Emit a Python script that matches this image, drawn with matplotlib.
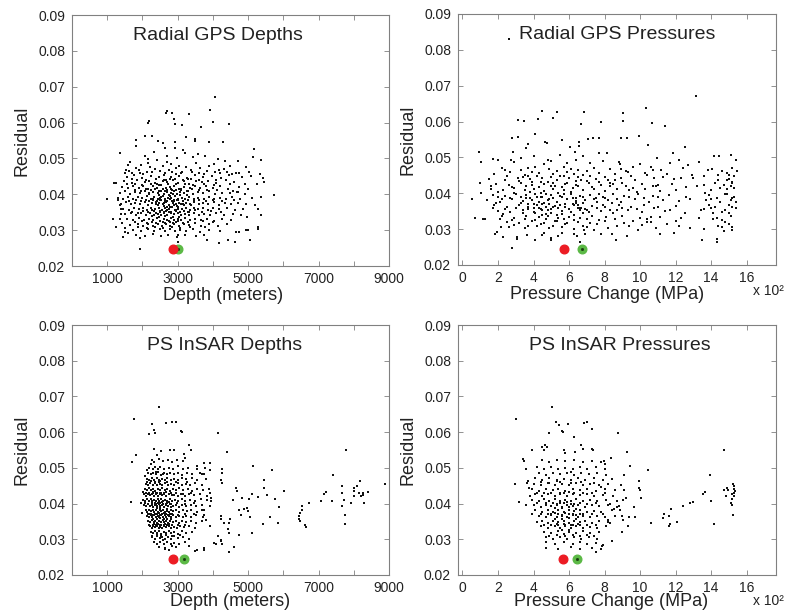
import matplotlib
matplotlib.use("Agg")
import matplotlib.pyplot as plt
import numpy as np

plt.rcParams['font.family'] = ['Liberation Sans', 'DejaVu Sans']

# Values.
# depth in units of 100 m, pressure in units of 100 MPa, residual in units of 0.001

gps_depth_pts = [
    # sparse outer points
    (10.0,38.6),(11.7,33.1),(12.4,30.9),(11.8,43.1),(12.5,43.1),(13.7,51.5),(14.4,28.0),(15.1,29.5),
    (16.0,29.1),(18.3,55.2),(18.3,53.6),(19.2,24.7),(19.3,27.7),(20.8,56.3),(21.6,59.9),(21.8,60.4),
    (22.6,56.4),(24.3,54.8),(25.8,54.3),(26.6,62.7),(26.9,63.1),(28.3,62.8),(29.0,61.0),(29.2,59.7),
    (31.3,59.3),(33.1,62.3),(32.5,56.0),(35.0,55.4),(35.0,54.8),(36.7,58.9),(39.3,63.6),(39.9,60.1),
    (40.5,67.0),(38.8,54.6),(42.9,54.6),(44.7,59.5),(51.6,52.6),(51.4,50.4),(53.6,49.6),(50.2,46.3),
    (53.3,45.6),(54.2,44.5),(54.4,43.4),(57.4,39.8),(53.6,39.2),(52.0,37.0),(52.7,36.0),(53.8,34.1),
    (52.8,30.9),(52.7,30.4),(49.3,30.0),(50.1,30.0),(50.6,27.2),(46.7,29.5),(47.3,29.5),(46.4,26.7),
    (44.4,27.4),(41.6,26.4),(38.3,27.2),(30.0,26.7),(30.1,28.6),(49.7,33.6),(47.0,40.7),(46.7,45.9),
    (47.0,49.2),(43.5,49.3),(41.4,49.9),(35.7,51.2),(36.4,47.3),(32.2,51.5),(29.2,54.5),(29.2,53.0),
    (27.0,49.0),(20.8,50.7),(21.5,49.9),(21.5,48.7),(16.6,48.9),(16.0,48.1),(15.3,46.7),(15.0,45.9),
    (13.0,38.4),(13.5,37.0),(14.0,36.0),(13.9,34.5),(13.7,33.0),(14.2,32.1),(15.0,30.6),
    # main cloud
    (16.2,46.4),(18.9,46.8),(21.3,46.1),(23.7,47.2),(25.1,46.5),(27.4,46.9),(29.6,47.4),(31.2,46.3),
    (33.8,46.7),(36.0,45.9),(38.3,46.6),(40.7,46.2),(43.1,47.0),(45.5,45.8),
    (15.5,44.8),(17.6,45.3),(19.8,44.6),(22.4,45.1),(24.6,44.9),(26.2,45.5),(28.1,44.7),(30.4,45.2),
    (32.6,44.6),(34.9,45.4),(37.1,44.8),(39.8,45.0),(42.3,44.5),(44.6,45.3),(48.2,44.7),(50.8,45.1),
    (14.8,43.6),(16.9,43.2),(18.4,43.9),(20.6,43.4),(22.0,43.8),(23.5,43.1),(25.7,43.6),(27.0,43.3),
    (28.8,43.9),(30.0,43.2),(31.7,43.7),(33.3,43.0),(35.2,43.8),(36.8,43.3),(38.6,43.6),(41.0,43.1),
    (43.7,43.9),(46.1,43.4),(49.2,43.0),(52.4,42.8),
    (14.2,42.1),(15.8,41.7),(17.3,42.4),(19.0,41.9),(20.2,42.3),(21.6,41.6),(22.9,42.2),(24.1,41.8),
    (25.4,42.5),(26.6,41.7),(27.8,42.0),(29.1,42.4),(30.3,41.6),(31.9,42.1),(33.6,41.8),(34.8,42.3),
    (36.4,41.7),(38.0,42.2),(39.9,41.9),(42.0,42.4),(44.2,41.6),(47.5,42.0),(50.1,41.5),
    (13.6,40.4),(15.1,40.8),(16.5,40.2),(17.9,40.7),(19.3,40.3),(20.7,40.9),(21.9,40.1),(23.1,40.6),
    (24.3,40.3),(25.2,40.8),(26.1,40.2),(27.1,40.7),(28.0,40.4),(28.9,40.9),(29.8,40.1),(30.8,40.6),
    (31.8,40.3),(33.0,40.8),(34.3,40.2),(35.7,40.6),(37.2,40.4),(38.9,40.8),(40.6,40.1),(42.5,40.5),
    (44.8,40.3),(46.9,40.7),(49.0,40.0),
    (13.1,39.1),(14.6,38.8),(16.0,39.3),(17.4,38.7),(18.7,39.2),(19.9,38.9),(21.2,39.4),(22.4,38.6),
    (23.4,39.2),(24.4,38.8),(25.3,39.3),(26.3,38.7),(27.2,39.1),(28.2,38.9),(29.2,39.4),(30.1,38.6),
    (31.1,39.0),(32.1,38.8),(33.3,39.3),(34.6,38.7),(35.9,39.1),(37.4,38.8),(38.8,39.3),(40.3,38.6),
    (41.9,39.0),(43.6,38.8),(45.4,39.2),(47.8,38.7),(51.0,38.9),
    (13.8,37.4),(15.3,37.8),(16.7,37.2),(18.0,37.6),(19.4,37.3),(20.6,37.8),(21.7,37.1),(22.8,37.5),
    (23.8,37.2),(24.8,37.7),(25.7,37.3),(26.7,37.8),(27.6,37.1),(28.6,37.6),(29.5,37.3),(30.4,37.7),
    (31.4,37.2),(32.4,37.6),(33.5,37.3),(34.7,37.8),(36.0,37.2),(37.3,37.6),(38.7,37.4),(40.2,37.8),
    (41.8,37.1),(43.4,37.5),(45.2,37.3),(47.1,37.7),(49.5,37.2),
    (14.5,36.0),(16.1,35.7),(17.5,36.3),(18.9,35.8),(20.1,36.2),(21.4,35.6),(22.5,36.1),(23.6,35.8),
    (24.6,36.3),(25.5,35.7),(26.4,36.1),(27.4,35.9),(28.3,36.4),(29.3,35.6),(30.2,36.0),(31.2,35.8),
    (32.3,36.3),(33.4,35.7),(34.6,36.1),(35.8,35.9),(37.1,36.2),(38.6,35.7),(40.1,36.1),(41.7,35.8),
    (43.9,36.2),(46.2,35.6),(48.6,36.0),
    (15.0,34.4),(16.8,34.8),(18.3,34.2),(19.7,34.7),(21.0,34.3),(22.2,34.8),(23.3,34.1),(24.3,34.6),
    (25.2,34.3),(26.2,34.8),(27.1,34.2),(28.1,34.7),(29.0,34.4),(30.0,34.9),(31.0,34.1),(32.1,34.6),
    (33.3,34.3),(34.6,34.8),(36.0,34.2),(37.5,34.6),(39.2,34.3),(41.0,34.7),(43.1,34.2),(45.7,34.5),
    (47.9,34.1),
    (15.6,33.1),(17.4,32.8),(19.1,33.3),(20.5,32.7),(21.8,33.2),(23.0,32.9),(24.0,33.4),(25.0,32.6),
    (26.0,33.0),(27.0,32.8),(28.0,33.3),(29.0,32.7),(30.0,33.1),(31.0,32.9),(32.2,33.4),(33.5,32.7),
    (34.9,33.0),(36.5,32.8),(38.3,33.2),(40.2,32.6),(42.6,33.0),(45.2,32.8),
    (16.5,31.4),(18.6,31.8),(20.2,31.2),(21.7,31.7),(23.1,31.3),(24.4,31.8),(25.6,31.1),(26.8,31.6),
    (27.9,31.3),(29.1,31.8),(30.4,31.2),(31.8,31.6),(33.2,31.4),(34.8,31.9),(36.7,31.2),(38.9,31.6),
    (41.5,31.3),(44.0,31.7),
    (17.2,30.1),(19.5,29.8),(21.5,30.3),(23.3,29.7),(24.9,30.2),(26.4,29.9),(27.8,30.4),(29.3,29.7),
    (30.8,30.1),(32.5,29.9),(34.4,30.3),(36.3,29.6),(39.0,30.0),(42.1,29.8),
    (18.2,28.6),(20.8,28.3),(22.9,28.8),(25.3,28.4),(27.3,28.7),(29.8,28.2),(32.2,28.6),(35.1,28.3),
    (37.6,28.7),
    (24.7,39.8),(25.9,39.6),(27.5,39.9),(28.6,40.0),(30.6,39.7),(26.9,38.2),(28.4,38.1),(29.9,38.3),
    (25.1,38.4),(31.6,38.2),(23.9,37.9),(27.9,36.6),(26.1,36.8),(29.7,36.7),(31.7,36.9),(24.9,35.2),
    (27.6,35.1),(29.5,35.3),(26.8,35.4),(30.7,35.2),(23.4,35.3),(28.7,33.8),(26.5,33.9),(24.6,33.7),
    (30.5,33.8),(27.7,32.2),(25.8,32.3),(29.6,32.4),(22.6,34.0),(32.8,35.1),(23.0,38.3),(22.0,40.3),
    (33.9,37.0),(32.7,39.7),(26.3,41.0),(28.4,41.3),(30.9,41.1),(24.2,42.9),(27.9,44.2),(29.4,45.8),
    (26.8,44.0),(32.9,44.2),(28.5,46.1),(25.8,47.8),(28.0,48.4),(30.5,48.0),(32.5,47.6),(22.2,47.5),
    (19.7,48.2),(35.2,48.6),(38.9,47.8),(41.6,46.8),(20.3,45.7),(24.0,49.5),(27.1,50.6),(29.9,50.1),
    (31.6,52.3),(26.3,52.8),(23.3,51.9),(34.3,50.3),(37.8,50.6),(40.2,48.5),(45.0,47.8),(44.1,46.1),
    (47.4,46.0),(49.5,47.6),(18.1,47.3),(17.0,45.9),
    (17.8,41.3),(19.6,41.0),(21.1,41.4),(22.3,41.1),(23.5,41.5),(24.7,41.0),(25.8,41.4),(26.9,41.1),
    (28.1,41.6),(29.6,41.2),(31.0,41.5),(32.6,41.0),(34.2,41.4),(36.1,41.1),(38.4,41.3),(41.3,41.2),
    (45.6,41.0),
    (16.3,38.1),(18.1,38.4),(19.5,38.0),(20.9,38.5),(22.0,38.1),(23.1,38.6),(24.2,38.0),(25.4,38.5),
    (26.5,38.1),(27.7,38.6),(28.9,38.0),(30.2,38.5),(31.6,38.0),(33.0,38.4),(34.5,38.1),(36.2,38.5),
    (38.1,38.0),(40.0,38.4),(42.7,38.2),(45.9,38.3),
    (16.9,35.2),(18.7,34.9),(20.3,35.4),(21.6,35.0),(22.8,35.5),(23.9,34.9),(25.0,35.4),(26.0,35.0),
    (27.1,35.5),(28.2,35.1),(29.4,35.6),(30.6,35.0),(31.9,35.4),(33.3,35.1),(35.0,35.5),(36.9,35.0),
    (39.4,35.3),(42.4,35.1),
    (17.9,32.2),(19.8,32.5),(21.4,32.0),(22.7,32.4),(23.9,32.1),(25.1,32.6),(26.3,32.0),(27.5,32.5),
    (28.7,32.1),(30.0,32.6),(31.4,32.0),(33.0,32.4),(34.9,32.1),(37.2,32.5),(40.1,32.2),
    (18.8,30.9),(21.2,30.7),(23.6,31.0),(25.9,30.6),(28.3,31.0),(30.7,30.7),(33.5,30.9),(37.8,30.8),
    (15.7,42.9),(17.9,43.0),(20.0,42.7),(22.3,43.0),(24.8,42.7),(27.3,43.0),(29.6,42.8),(32.1,42.9),
    (34.4,42.6),(37.4,42.9),(40.2,42.7),(45.0,42.8),
    (17.0,44.2),(20.9,44.1),(23.8,44.3),(26.1,44.0),(29.2,44.2),(31.4,44.0),(33.9,44.3),(36.0,44.1),
    (40.8,44.0),
    (19.2,46.0),(22.8,46.2),(26.5,46.0),(30.9,45.9),(34.1,46.1),(37.6,45.8),(42.0,45.9),
    (24.5,36.9),(26.0,37.5),(27.0,36.4),(28.9,37.0),(30.0,36.6),(25.0,39.0),(27.8,39.5),(29.0,38.4),
    (31.0,37.4),
]

gps_pressure_pts = [
    # sparse outer points
    (2.64,83.0),(13.17,67.0),(0.55,38.5),(0.70,33.0),(0.94,51.6),(1.07,48.6),(0.98,43.0),(1.02,40.0),
    (1.15,32.8),(1.70,49.6),(2.00,49.4),(2.73,49.2),(2.83,51.5),(2.81,55.5),(3.10,60.5),(3.10,55.7),
    (3.45,60.2),(3.58,52.7),(4.09,56.4),(4.24,60.6),(4.45,63.0),(4.67,54.4),(4.75,53.9),(5.07,60.9),
    (5.30,62.8),(4.79,49.4),(5.58,54.8),(6.07,53.0),(6.35,51.5),(6.65,59.3),(6.86,62.7),(6.58,54.4),
    (6.56,53.1),(7.07,55.0),(7.35,55.4),(7.67,55.5),(7.80,59.9),(7.67,51.3),(8.12,51.1),(8.86,48.3),
    (8.95,55.5),(9.03,62.5),(9.06,60.2),(9.27,55.4),(9.93,56.0),(10.46,53.5),(10.33,63.7),(10.69,59.7),
    (11.38,58.8),(10.97,49.8),(10.61,47.2),(11.87,51.3),(12.51,52.8),(12.70,47.9),(13.29,48.7),
    (14.02,46.9),(14.17,50.5),(14.45,50.3),(15.10,50.6),(15.40,49.2),(15.45,46.1),(13.60,42.3),
    (13.64,40.1),(13.40,35.3),(13.29,33.1),(12.80,30.3),(12.30,33.2),(11.90,29.0),(11.10,28.7),
    (10.40,32.0),(10.60,33.4),(13.50,26.9),(13.60,29.9),(14.30,27.3),(14.30,26.3),(14.40,30.8),
    (14.70,29.5),(15.20,30.6),(15.20,29.7),(15.40,35.8),(15.40,37.7),(15.30,41.5),(15.20,43.2),
    (15.00,45.2),(14.90,43.6),(14.10,34.4),(14.00,35.8),(8.67,27.0),(8.42,28.7),(9.27,28.1),(9.90,29.7),
    (7.40,29.7),(7.80,28.7),(6.86,29.7),(6.90,28.7),(6.63,26.3),(6.45,28.2),(6.26,28.7),(5.40,28.1),
    (5.58,28.9),(5.00,27.6),(4.96,27.1),(4.47,28.3),(4.60,28.9),(4.09,26.9),(3.62,28.3),(3.05,27.8),
    (3.07,27.3),(2.77,24.7),(2.30,27.8),(1.92,29.2),(1.83,28.7),(2.15,30.6),(1.26,32.7),
    # main cloud
    (2.2,47.1),(3.3,46.6),(4.1,47.4),(4.9,46.8),(5.7,47.2),(6.5,46.5),(7.4,47.0),(8.3,46.7),(9.6,47.3),
    (11.2,46.6),(12.4,47.1),(14.6,46.3),(15.2,47.0),
    (1.8,45.3),(2.7,45.8),(3.5,45.2),(4.3,45.7),(5.1,45.4),(5.9,45.9),(6.8,45.1),(7.7,45.6),(8.6,45.3),
    (9.3,45.8),(10.4,45.0),(11.5,45.5),(12.9,45.2),(14.9,45.7),(15.3,44.9),
    (1.5,44.1),(2.4,43.7),(3.1,44.3),(3.8,43.9),(4.5,44.4),(5.3,43.8),(6.0,44.2),(6.7,43.6),(7.5,44.1),
    (8.2,43.8),(8.9,44.4),(9.7,43.7),(10.8,44.2),(11.9,43.9),(12.3,44.3),(14.4,43.8),(15.0,44.0),
    (1.9,42.6),(2.6,42.2),(3.3,42.8),(3.9,42.3),(4.6,42.7),(5.2,42.1),(5.8,42.6),(6.4,42.3),(7.1,42.8),
    (7.8,42.2),(8.5,42.5),(9.2,42.1),(10.1,42.7),(11.0,42.3),(11.8,42.6),(13.2,42.0),(14.7,42.4),
    (15.2,42.9),
    (1.6,41.2),(2.3,40.8),(2.9,41.4),(3.5,40.9),(4.0,41.3),(4.6,40.7),(5.1,41.2),(5.7,40.9),(6.2,41.4),
    (6.8,40.8),(7.4,41.1),(8.0,40.7),(8.7,41.3),(9.4,40.9),(10.3,41.2),(11.1,40.6),(12.0,41.0),
    (14.0,40.8),(14.9,41.3),
    (1.7,39.6),(2.4,39.2),(3.0,39.8),(3.6,39.4),(4.1,39.7),(4.5,39.1),(5.0,39.6),(5.5,39.3),(6.1,39.8),
    (6.6,39.2),(7.2,39.5),(7.9,39.1),(8.5,39.7),(9.1,39.3),(9.9,39.8),(10.7,39.2),(11.6,39.6),
    (12.6,39.0),(13.9,39.4),(14.8,39.7),(15.3,39.1),
    (1.4,38.1),(2.1,37.7),(2.8,38.3),(3.4,37.8),(3.9,38.2),(4.3,37.6),(4.8,38.1),(5.3,37.7),(5.9,38.3),
    (6.4,37.9),(6.9,38.2),(7.6,37.6),(8.2,38.0),(8.9,37.7),(9.7,38.3),(10.5,37.6),(11.3,38.1),
    (12.2,37.8),(13.7,38.0),(14.5,37.5),(15.1,38.2),
    (1.8,36.6),(2.5,36.2),(3.2,36.7),(3.7,36.3),(4.2,36.8),(4.7,36.1),(5.2,36.5),(5.8,36.2),(6.3,36.7),
    (6.7,36.0),(7.3,36.4),(8.0,36.1),(8.8,36.6),(9.5,36.2),(10.2,36.8),(11.0,36.3),(12.0,36.5),
    (14.2,36.1),(15.0,36.7),
    (2.0,35.1),(2.7,34.7),(3.4,35.3),(4.0,34.8),(4.5,35.2),(5.0,34.6),(5.6,35.1),(6.1,34.8),(6.6,35.3),
    (7.1,34.7),(7.8,35.0),(8.5,34.6),(9.3,35.2),(10.1,34.8),(11.4,35.1),(12.5,34.6),(14.6,34.9),
    (2.2,33.6),(2.9,33.2),(3.6,33.8),(4.3,33.3),(4.8,33.7),(5.4,33.1),(6.0,33.5),(6.6,33.2),(7.3,33.7),
    (8.1,33.3),(9.0,33.6),(10.0,33.0),(11.1,33.4),(14.3,33.2),(15.1,33.8),
    (2.5,32.1),(3.2,31.7),(3.9,32.3),(4.6,31.8),(5.2,32.2),(5.9,31.6),(6.5,32.0),(7.2,31.8),(8.0,32.3),
    (9.1,31.7),(10.6,32.1),(11.5,31.5),(14.8,31.9),
    (2.6,30.6),(3.5,30.2),(4.2,30.8),(4.9,30.3),(5.6,30.7),(6.3,30.1),(7.0,30.5),(8.2,30.2),(9.4,30.8),
    (10.9,30.4),(14.6,30.6),
    (3.8,40.3),(4.4,40.1),(4.2,38.9),(4.7,39.9),(5.4,40.2),(4.0,37.1),(4.6,37.3),(5.1,38.7),(3.6,38.6),
    (4.9,36.9),(5.5,36.8),(4.4,35.6),(5.0,35.7),(4.7,34.2),(4.1,34.4),(5.3,33.9),(6.2,37.0),(6.5,36.6),
    (6.8,37.2),(6.6,35.9),(6.9,35.6),(6.4,38.8),(6.1,40.4),(5.7,39.8),(3.3,37.2),(3.0,36.0),(2.9,40.1),
    (3.2,43.4),(3.7,44.8),(4.8,43.2),(5.5,44.7),(6.3,45.3),(7.0,43.3),(7.7,39.9),(8.3,42.8),(8.6,43.6),
    (9.0,42.9),(9.8,40.4),(10.9,42.0),(7.5,38.7),(7.9,36.8),(8.4,37.3),(8.7,35.4),(2.0,40.3),(2.2,38.4),
    (1.9,37.3),(2.3,34.2),(3.9,46.0),(4.6,48.1),(5.0,48.9),(5.9,48.4),(6.4,49.3),(7.2,48.5),(7.9,49.1),
    (8.8,48.7),(2.9,48.6),(3.3,49.8),(4.0,50.3),(3.7,53.7),(5.5,50.8),(6.8,50.5),(10.0,48.2),(11.7,48.4),
    (12.2,49.2),(9.2,46.1),(10.3,45.6),(13.6,44.7),(14.2,42.9),(14.4,45.0),(15.1,42.0),(14.9,39.9),
    (15.2,36.2),(15.0,34.4),(14.6,32.6),(13.9,36.7),(14.0,38.4),
    (1.6,42.0),(2.8,41.8),(3.6,42.0),(4.3,41.7),(5.0,42.0),(5.6,41.8),(6.5,42.1),(7.3,41.7),(8.3,41.9),
    (9.6,41.6),(10.7,41.9),(12.6,41.8),(14.5,41.5),
    (2.0,38.9),(2.7,38.7),(3.3,39.0),(3.8,38.6),(4.4,38.9),(4.9,38.5),(5.6,38.9),(6.2,38.6),(6.8,38.9),
    (7.4,38.5),(8.0,38.8),(8.7,38.4),(9.4,38.9),(10.2,38.6),(11.0,38.9),(12.8,38.5),(14.3,38.8),
    (15.2,38.6),
    (1.7,35.8),(2.4,35.5),(3.0,35.9),(3.7,35.6),(4.3,35.9),(4.8,35.4),(5.4,35.8),(6.0,35.5),(6.5,35.8),
    (7.0,35.3),(7.6,35.8),(8.3,35.4),(9.0,35.9),(9.8,35.5),(10.8,35.8),(11.7,35.4),(13.6,35.6),
    (14.8,35.2),
    (2.1,32.8),(2.8,32.5),(3.5,32.9),(4.1,32.6),(4.7,32.9),(5.3,32.4),(5.7,32.8),(6.3,32.5),(7.0,32.8),
    (7.7,32.5),(8.6,32.9),(9.6,32.4),(10.4,32.7),(12.0,32.3),(14.1,32.8),
    (2.9,31.2),(3.7,31.0),(4.4,31.3),(5.1,30.9),(5.8,31.3),(6.8,31.0),(7.6,31.3),(8.7,31.0),(10.1,31.2),
    (12.2,31.0),(15.0,31.3),
    (2.5,44.9),(3.4,44.6),(4.2,44.9),(5.0,44.5),(5.7,44.9),(6.5,44.6),(7.2,44.9),(8.0,44.6),(9.5,44.9),
    (11.3,44.5),(13.0,44.3),
    (2.4,46.6),(3.7,47.0),(5.3,46.3),(6.1,46.9),(7.0,46.3),(8.9,46.9),(10.7,46.4),(13.8,46.6),
    (3.9,43.2),(4.4,43.1),(5.1,42.9),(5.9,43.0),(6.4,43.4),(7.7,43.1),(4.5,34.0),(5.6,34.2),(6.3,34.0),
    (6.8,34.4),(3.4,34.4),(4.0,36.0),(5.1,36.1),(6.4,37.3),(5.8,37.0),(4.5,37.0),(3.7,37.1),
]

insar_depth_pts = [
    # sparse outer points
    (17.6,63.7),(16.9,51.7),(18.1,53.6),(16.8,40.5),(24.7,67.0),(22.6,62.4),(21.9,59.5),(23.3,60.6),
    (23.5,59.8),(26.8,62.6),(28.3,62.8),(29.6,62.8),(30.9,60.3),(31.2,60.0),(33.3,56.3),(33.7,54.9),
    (27.8,55.0),(29.0,55.0),(31.8,54.0),(32.1,52.8),(41.5,59.8),(44.1,54.5),(39.2,51.4),(39.2,49.5),
    (42.7,49.8),(42.7,48.6),(42.4,46.7),(42.5,45.8),(51.3,50.4),(56.7,49.3),(54.5,46.5),(54.5,44.4),
    (60.2,43.4),(55.5,42.3),(57.7,41.4),(58.8,39.0),(56.2,36.3),(58.5,34.6),(54.1,34.4),(51.2,31.8),
    (50.3,41.4),(52.7,41.9),(51.0,42.7),(48.4,41.6),(45.7,41.1),(46.5,44.4),(46.8,43.6),(48.9,38.5),
    (49.8,38.8),(50.0,37.9),(50.4,36.3),(47.4,38.3),(47.9,36.9),(45.0,35.8),(44.6,34.6),(44.3,33.0),
    (44.7,31.8),(47.3,31.3),(42.2,36.5),(42.3,35.6),(43.1,34.6),(41.5,30.8),(42.2,29.9),(46.0,27.9),
    (44.6,26.4),(40.3,29.0),(40.8,28.8),(42.4,29.4),(42.5,28.7),(37.5,27.6),(37.5,27.1),(35.0,26.6),
    (35.6,27.1),(33.3,28.0),(39.2,33.6),(37.0,38.3),(37.5,36.7),(38.0,35.5),(39.1,43.0),(39.4,41.6),
    (39.6,40.7),(36.8,48.2),(37.5,48.2),(35.5,50.4),(37.5,51.3),(64.8,37.4),(64.5,36.4),(64.5,35.8),
    (64.7,35.0),(65.3,39.3),(65.3,38.3),(66.2,34.1),(66.4,33.5),(67.4,40.2),(70.7,40.7),(71.6,42.7),
    (72.1,43.3),(74.1,47.9),(73.8,40.7),(76.6,44.9),(76.6,43.0),(77.3,41.1),(76.8,39.4),(77.5,36.9),
    (77.5,34.4),(77.8,55.0),(79.2,40.2),(80.0,42.0),(80.0,43.5),(80.2,44.4),(81.0,45.0),(81.8,46.4),
    (81.5,43.0),(82.0,42.2),(82.5,42.5),(82.7,43.0),(83.0,40.2),(84.0,43.2),(89.0,45.5),
    # main cloud
    (22.7,52.2),(23.4,51.7),(24.6,52.4),(25.9,51.8),(27.2,52.1),(28.5,51.6),(29.8,52.3),(31.4,51.9),
    (22.0,50.1),(22.9,49.7),(23.6,50.3),(24.3,49.8),(25.1,50.2),(26.2,49.6),(27.4,50.0),(28.8,49.8),
    (30.1,50.4),(31.6,49.7),(33.0,50.0),(35.4,49.6),(37.7,50.1),
    (21.5,48.6),(22.3,48.2),(23.0,48.7),(23.8,48.3),(24.5,48.8),(25.3,48.1),(26.1,48.5),(27.0,48.2),
    (27.8,48.7),(28.9,48.3),(30.0,48.6),(31.3,48.1),(32.6,48.5),(34.2,48.2),(36.4,48.6),
    (21.2,47.0),(21.9,46.6),(22.6,47.2),(23.3,46.7),(24.0,47.1),(24.7,46.5),(25.5,47.0),(26.3,46.6),
    (27.1,47.2),(28.0,46.7),(29.0,47.0),(30.1,46.5),(31.2,47.1),(32.5,46.8),(34.0,47.2),(35.6,46.6),
    (38.0,47.0),
    (20.9,45.6),(21.6,45.2),(22.2,45.8),(22.9,45.3),(23.5,45.7),(24.2,45.1),(24.9,45.6),(25.6,45.2),
    (26.4,45.8),(27.2,45.3),(28.1,45.6),(29.0,45.1),(30.0,45.7),(31.1,45.3),(32.3,45.6),(33.5,45.2),
    (35.0,45.7),(36.8,45.3),
    (20.6,44.1),(21.3,43.7),(21.9,44.3),(22.5,43.8),(23.1,44.2),(23.7,43.6),(24.3,44.1),(24.9,43.8),
    (25.6,44.3),(26.3,43.7),(27.0,44.0),(27.8,43.6),(28.6,44.2),(29.5,43.8),(30.5,44.3),(31.6,43.7),
    (32.8,44.1),(34.1,43.6),(35.5,44.0),(37.2,43.7),(39.0,44.2),
    (20.4,42.6),(21.0,42.2),(21.6,42.8),(22.1,42.3),(22.7,42.7),(23.2,42.1),(23.8,42.6),(24.3,42.2),
    (24.9,42.8),(25.5,42.3),(26.1,42.6),(26.8,42.1),(27.5,42.7),(28.3,42.3),(29.1,42.5),(30.0,42.0),
    (31.0,42.6),(32.1,42.2),(33.3,42.7),(34.7,42.3),(36.3,42.6),(38.2,42.1),
    (20.2,41.1),(20.8,40.7),(21.3,41.3),(21.8,40.8),(22.3,41.2),(22.8,40.6),(23.3,41.1),(23.8,40.7),
    (24.3,41.3),(24.8,40.8),(25.3,41.2),(25.9,40.6),(26.5,41.0),(27.1,40.7),(27.8,41.3),(28.5,40.8),
    (29.3,41.1),(30.2,40.6),(31.1,41.2),(32.2,40.8),(33.4,41.1),(34.8,40.7),(36.5,41.2),(38.4,40.9),
    (20.5,39.6),(21.1,39.2),(21.6,39.8),(22.1,39.3),(22.6,39.7),(23.1,39.1),(23.6,39.6),(24.1,39.2),
    (24.6,39.8),(25.1,39.3),(25.6,39.6),(26.1,39.1),(26.7,39.7),(27.3,39.3),(27.9,39.8),(28.6,39.2),
    (29.4,39.5),(30.3,39.1),(31.3,39.7),(32.4,39.3),(33.7,39.6),(35.2,39.2),(37.0,39.7),(39.2,39.3),
    (20.9,38.1),(21.4,37.7),(21.9,38.3),(22.4,37.8),(22.9,38.2),(23.4,37.6),(23.9,38.1),(24.4,37.7),
    (24.9,38.3),(25.4,37.8),(25.9,38.2),(26.4,37.6),(26.9,38.0),(27.5,37.7),(28.1,38.3),(28.8,37.8),
    (29.6,38.1),(30.5,37.6),(31.5,38.2),(32.6,37.8),(33.9,38.1),(35.5,37.7),(37.4,38.2),
    (21.3,36.6),(21.8,36.2),(22.3,36.7),(22.8,36.3),(23.3,36.8),(23.8,36.1),(24.3,36.5),(24.8,36.2),
    (25.3,36.7),(25.8,36.3),(26.3,36.8),(26.8,36.1),(27.4,36.5),(28.0,36.2),(28.7,36.7),(29.5,36.3),
    (30.4,36.6),(31.4,36.1),(32.5,36.5),(33.8,36.2),(35.3,36.7),(37.1,36.3),
    (21.7,35.1),(22.2,34.7),(22.7,35.3),(23.2,34.8),(23.7,35.2),(24.2,34.6),(24.7,35.1),(25.2,34.8),
    (25.7,35.3),(26.2,34.7),(26.7,35.0),(27.3,34.6),(27.9,35.2),(28.6,34.8),(29.4,35.1),(30.3,34.6),
    (31.3,35.2),(32.4,34.8),(33.7,35.0),(35.2,34.6),(36.8,35.1),
    (22.1,33.6),(22.6,33.2),(23.1,33.8),(23.6,33.3),(24.1,33.7),(24.6,33.1),(25.1,33.5),(25.6,33.2),
    (26.2,33.8),(26.8,33.3),(27.4,33.6),(28.1,33.1),(28.9,33.5),(29.8,33.2),(30.8,33.7),(31.9,33.3),
    (33.2,33.6),(34.8,33.1),
    (22.4,32.1),(23.0,31.7),(23.6,32.3),(24.2,31.8),(24.8,32.2),(25.4,31.6),(26.0,32.0),(26.7,31.7),
    (27.4,32.3),(28.2,31.8),(29.1,32.1),(30.1,31.6),(31.2,32.2),(32.5,31.8),(34.0,32.0),
    (22.8,30.6),(23.5,30.2),(24.2,30.8),(24.9,30.3),(25.6,30.7),(26.4,30.1),(27.2,30.5),(28.1,30.2),
    (29.1,30.8),(30.2,30.3),(31.5,30.6),(33.1,30.2),
    (23.3,29.1),(24.2,28.7),(25.1,29.3),(26.0,28.8),(27.0,29.2),(28.0,28.6),(29.1,29.0),(30.4,28.7),
    (32.0,29.1),(24.8,27.9),(26.5,27.6),(28.3,28.0),(29.6,27.7),
    (23.5,40.2),(24.5,40.1),(25.6,40.3),(26.6,40.0),(27.6,40.4),(23.0,38.9),(24.0,38.8),(25.0,38.7),
    (26.0,38.9),(27.0,38.6),(28.0,38.9),(22.5,37.2),(23.5,37.1),(24.6,37.3),(25.6,37.0),(26.6,37.2),
    (27.7,37.1),(23.0,35.8),(24.0,35.7),(25.0,35.9),(26.0,35.6),(27.0,35.8),(28.2,35.7),(23.4,34.2),
    (24.4,34.3),(25.4,34.1),(26.4,34.2),(27.5,34.4),(24.0,42.9),(25.0,43.1),(26.0,42.9),(23.0,43.3),
    (24.6,46.1),(23.9,48.9),(25.7,48.4),(22.4,51.0),(24.0,53.5),(25.2,54.8),(23.2,55.4),(21.3,49.5),
    (20.7,47.7),(20.1,43.3),(19.6,40.2),(20.0,37.4),(26.3,27.2),(27.5,26.9),(28.8,30.9),(25.9,29.8),
    (21.0,43.0),(21.9,42.9),(22.9,43.1),(23.9,42.9),(25.3,43.0),(26.6,43.2),(28.0,42.9),(29.6,43.1),
    (31.5,42.8),(33.9,43.0),
    (20.8,40.1),(21.7,40.0),(22.6,40.2),(23.9,39.9),(24.9,40.2),(25.9,39.9),(27.0,40.1),(28.2,40.0),
    (29.9,40.2),(32.0,39.9),(34.5,40.1),
    (21.5,37.0),(22.2,37.1),(23.0,36.9),(24.2,37.2),(25.1,36.9),(26.2,37.3),(27.2,36.9),(28.4,37.2),
    (30.0,36.9),(32.0,37.1),(34.6,37.0),
    (22.0,34.0),(22.9,34.0),(23.9,34.0),(25.0,33.9),(26.0,34.1),(27.0,33.9),(28.4,34.0),(30.0,33.9),
    (32.2,34.1),
    (22.6,31.0),(24.0,31.1),(25.2,31.0),(26.7,31.1),(28.5,31.0),(30.8,31.1),
    (21.4,46.0),(22.4,46.2),(23.6,46.0),(25.0,46.2),(26.9,46.0),(29.4,46.1),(32.6,46.0),
]

insar_pressure_pts = [
    # sparse outer points
    (3.00,63.7),(2.96,45.6),(3.16,40.4),(3.43,52.6),(3.46,51.9),(3.56,49.8),(3.65,45.8),(3.73,44.4),
    (3.93,55.0),(4.46,55.8),(4.57,55.1),(4.66,56.5),(4.76,55.9),(5.02,67.1),(5.28,62.8),(4.90,59.8),
    (5.41,62.0),(5.58,60.3),(5.66,60.0),(5.96,62.4),(6.27,58.7),(6.84,62.6),(7.00,62.9),(7.30,60.9),
    (6.65,56.3),(6.78,55.4),(7.27,55.3),(7.34,54.9),(6.31,54.5),(5.69,55.0),(5.75,54.2),(8.37,52.8),
    (8.76,59.8),(9.27,54.5),(9.42,50.5),(7.96,51.9),(8.01,51.2),(9.96,46.4),(9.93,44.4),(10.00,43.9),
    (10.04,41.6),(10.43,49.3),(9.10,43.9),(9.20,41.6),(9.06,41.1),(8.85,38.2),(8.70,39.1),(8.55,38.6),
    (9.68,39.0),(9.74,36.3),(9.40,36.3),(9.33,33.8),(9.00,36.4),(9.02,35.5),(8.40,29.4),(8.99,32.0),
    (8.22,35.3),(8.28,34.6),(7.87,28.0),(7.80,27.4),(7.53,26.4),(10.60,34.6),(11.37,37.2),(11.30,36.0),
    (11.60,36.4),(11.74,38.5),(11.60,33.6),(11.70,34.4),(12.06,34.8),(12.43,39.3),(12.83,40.2),
    (12.96,40.5),(13.52,42.7),(13.67,43.3),(13.93,48.1),(13.99,40.6),(14.18,34.4),(14.74,55.0),
    (14.74,43.9),(14.83,42.0),(14.89,44.4),(14.93,43.9),(15.10,40.2),(15.15,39.5),(15.17,41.3),
    (15.24,45.5),(15.28,44.9),(15.30,44.1),(15.20,42.6),(15.28,42.2),(15.31,43.0),(15.35,43.5),
    (15.24,36.7),
    # main cloud
    (4.5,52.1),(4.9,51.6),(5.3,52.3),(5.8,51.8),(6.3,52.2),(6.8,51.6),(7.3,52.0),(7.8,51.7),
    (4.2,50.2),(4.6,49.7),(5.0,50.3),(5.4,49.8),(5.8,50.1),(6.2,49.6),(6.6,50.2),(7.0,49.8),(7.5,50.3),
    (8.0,49.7),
    (4.3,48.6),(4.7,48.1),(5.1,48.7),(5.5,48.2),(5.9,48.5),(6.3,48.1),(6.7,48.7),(7.1,48.3),(7.6,48.6),
    (8.1,48.1),
    (4.1,47.1),(4.5,46.6),(4.9,47.2),(5.3,46.7),(5.7,47.0),(6.1,46.5),(6.5,47.1),(6.9,46.7),(7.4,47.2),
    (7.9,46.6),(8.4,47.0),
    (4.0,45.6),(4.4,45.2),(4.8,45.7),(5.2,45.1),(5.6,45.5),(6.0,45.2),(6.4,45.8),(6.8,45.3),(7.2,45.6),
    (7.7,45.1),(8.2,45.5),
    (3.9,44.0),(4.3,43.6),(4.7,44.2),(5.1,43.7),(5.4,44.1),(5.8,43.6),(6.2,44.2),(6.6,43.8),(7.0,44.1),
    (7.5,43.6),(8.0,44.0),(8.6,43.7),
    (4.1,42.6),(4.5,42.1),(4.8,42.7),(5.2,42.2),(5.5,42.6),(5.9,42.1),(6.2,42.7),(6.6,42.3),(7.0,42.6),
    (7.4,42.1),(7.9,42.5),(8.5,42.2),
    (3.9,41.1),(4.3,40.6),(4.6,41.2),(4.9,40.7),(5.2,41.3),(5.5,40.8),(5.8,41.1),(6.1,40.6),(6.4,41.2),
    (6.8,40.7),(7.2,41.0),(7.6,40.6),(8.1,41.1),(8.7,40.8),
    (4.0,39.6),(4.4,39.1),(4.7,39.7),(5.0,39.2),(5.3,39.6),(5.6,39.1),(5.9,39.7),(6.2,39.3),(6.5,39.6),
    (6.9,39.1),(7.3,39.5),(7.7,39.2),(8.2,39.6),(8.8,39.3),
    (4.1,38.1),(4.5,37.7),(4.8,38.2),(5.1,37.6),(5.4,38.1),(5.7,37.7),(6.0,38.3),(6.3,37.8),(6.6,38.1),
    (7.0,37.6),(7.4,38.0),(7.8,37.7),(8.4,38.2),
    (4.3,36.6),(4.7,36.1),(5.0,36.7),(5.3,36.2),(5.6,36.6),(5.9,36.1),(6.2,36.7),(6.5,36.3),(6.8,36.6),
    (7.2,36.1),(7.6,36.5),(8.0,36.2),(8.6,36.6),
    (4.5,35.1),(4.8,34.6),(5.1,35.2),(5.4,34.7),(5.7,35.1),(6.0,34.6),(6.3,35.2),(6.6,34.8),(6.9,35.1),
    (7.3,34.6),(7.7,35.0),(8.2,34.7),
    (4.4,33.6),(4.8,33.1),(5.2,33.7),(5.5,33.2),(5.8,33.6),(6.1,33.1),(6.4,33.7),(6.8,33.2),(7.2,33.5),
    (7.6,33.1),(8.1,33.6),
    (4.6,32.1),(5.0,31.7),(5.4,32.2),(5.7,31.6),(6.0,32.1),(6.4,31.7),(6.8,32.2),(7.2,31.8),(7.7,32.0),
    (4.7,30.6),(5.1,30.2),(5.5,30.7),(5.9,30.2),(6.3,30.6),(6.7,30.1),(7.1,30.5),(7.6,30.2),
    (4.7,29.1),(5.2,28.7),(5.7,29.2),(6.2,28.8),(6.6,29.1),(7.0,28.6),(7.5,29.0),(7.9,28.4),
    (4.7,27.6),(5.4,27.3),(6.1,27.7),(6.6,27.2),(7.3,27.5),
    (5.1,40.2),(5.5,40.1),(5.9,40.3),(6.3,40.0),(5.2,38.8),(5.6,38.7),(6.0,38.9),(6.4,38.6),(5.0,37.2),
    (5.4,37.1),(5.8,37.3),(6.2,37.0),(6.6,37.2),(5.2,35.8),(5.6,35.7),(6.0,35.9),(6.4,35.6),(5.3,34.2),
    (5.7,34.3),(6.1,34.1),(6.5,34.2),(5.6,32.7),(6.0,32.6),(5.5,43.0),(6.0,43.2),(5.3,46.2),(6.1,48.9),
    (7.8,44.7),(8.9,45.1),(9.1,48.0),(3.7,46.3),(3.8,42.2),(3.6,39.6),(3.9,37.2),(4.2,34.9),
    (4.2,43.1),(4.6,42.9),(5.0,43.1),(5.7,42.9),(6.3,43.1),(6.8,42.9),(7.3,43.1),(8.0,42.9),
    (4.2,40.1),(4.7,40.2),(5.3,39.9),(5.7,40.2),(6.1,39.9),(6.6,40.1),(7.0,39.9),(7.5,40.2),(8.3,40.0),
    (4.4,37.1),(4.8,37.0),(5.2,37.3),(5.6,36.9),(6.0,37.1),(6.4,36.9),(6.8,37.1),(7.3,37.0),(7.9,37.2),
    (4.6,34.0),(5.0,33.9),(5.4,34.1),(5.8,33.9),(6.2,34.1),(6.6,33.9),(7.0,34.0),(7.5,34.1),
    (4.9,31.0),(5.3,31.1),(5.8,30.9),(6.2,31.1),(6.6,30.9),(7.0,31.1),(7.4,30.9),
    (4.4,46.1),(4.9,45.9),(5.5,46.1),(6.1,45.9),(6.7,46.1),(7.4,45.9),
]

# best-fit markers (red) and reference markers (green): (x, residual)
red_pts = [(2870, 0.0247), (570, 0.0246), (2880, 0.0246), (566, 0.0246)]
green_pts = [(3000, 0.0247), (675, 0.0246), (3170, 0.0246), (644, 0.0246)]

titles = ['Radial GPS Depths', 'Radial GPS Pressures', 'PS InSAR Depths', 'PS InSAR Pressures']
xlabels = ['Depth (meters)', 'Pressure Change (MPa)', 'Depth (meters)', 'Pressure Change (MPa)']

fig = plt.figure(figsize=(7.86, 6.13), dpi=100)
positions = [
    [0.0916, 0.566, 0.4033, 0.4095],
    [0.5827, 0.5677, 0.4046, 0.4095],
    [0.0916, 0.062, 0.4033, 0.4078],
    [0.5827, 0.062, 0.4046, 0.4078],
]
all_pts = [gps_depth_pts, gps_pressure_pts, insar_depth_pts, insar_pressure_pts]
title_x = [0.46, 0.5, 0.48, 0.51]
xlabel_x = [0.475, 0.47, 0.5, 0.48]

for i in range(4):
    ax = fig.add_axes(positions[i])
    pts = np.array(all_pts[i])
    is_depth = (i % 2 == 0)
    xs = pts[:, 0] * 100
    ys = pts[:, 1] / 1000.0

    gx, gy = green_pts[i]
    rx, ry = red_pts[i]
    ax.plot(gx, gy, 'o', color='#5cb946', ms=6.2, mec='#5cb946', zorder=3)
    ax.plot(gx, gy, 's', color='#1a3a10', ms=1.0, zorder=4)
    ax.plot(rx, ry, 'o', color='#ec1c24', ms=6.2, mec='#ec1c24', zorder=5)
    ax.scatter(xs, ys, s=3.2, c='#111111', marker='s', linewidths=0, zorder=2)

    ax.set_ylim(0.02, 0.09)
    ax.set_yticks(np.arange(0.02, 0.0901, 0.01))
    ax.set_yticklabels(['%.2f' % v for v in np.arange(0.02, 0.0901, 0.01)])

    if is_depth:
        ax.set_xlim(0, 9000)
        ticks = np.arange(0, 9001, 1000)
        ax.set_xticks(ticks)
        ax.set_xticklabels([str(t) if t % 2000 == 1000 else '' for t in ticks])
    else:
        ax.set_xlim(-25, 1765)
        ticks = np.arange(0, 1601, 200)
        ax.set_xticks(ticks)
        ax.set_xticklabels([str(t // 100) for t in ticks])
        ax.text(0.928, -0.105, 'x 10²', transform=ax.transAxes, fontsize=10,
                ha='left', va='center', color='#222222')

    ax.tick_params(direction='in', top=True, right=True, length=3.5, width=0.6,
                   color='#808080', labelsize=10, labelcolor='#222222')
    ax.tick_params(axis='x', pad=4)
    ax.tick_params(axis='y', pad=5)
    for sp in ax.spines.values():
        sp.set_color('#808080')
        sp.set_linewidth(0.8)

    ax.text(title_x[i], 0.92, titles[i], transform=ax.transAxes, fontsize=14,
            ha='center', va='center', color='#222222')
    ax.set_xlabel(xlabels[i], fontsize=13, color='#222222')
    ax.set_ylabel('Residual', fontsize=13, color='#222222')
    ax.xaxis.set_label_coords(xlabel_x[i], -0.085 if i < 2 else -0.074)
    ax.yaxis.set_label_coords(-0.13, 0.5)

fig.savefig('out.png', dpi=100)
